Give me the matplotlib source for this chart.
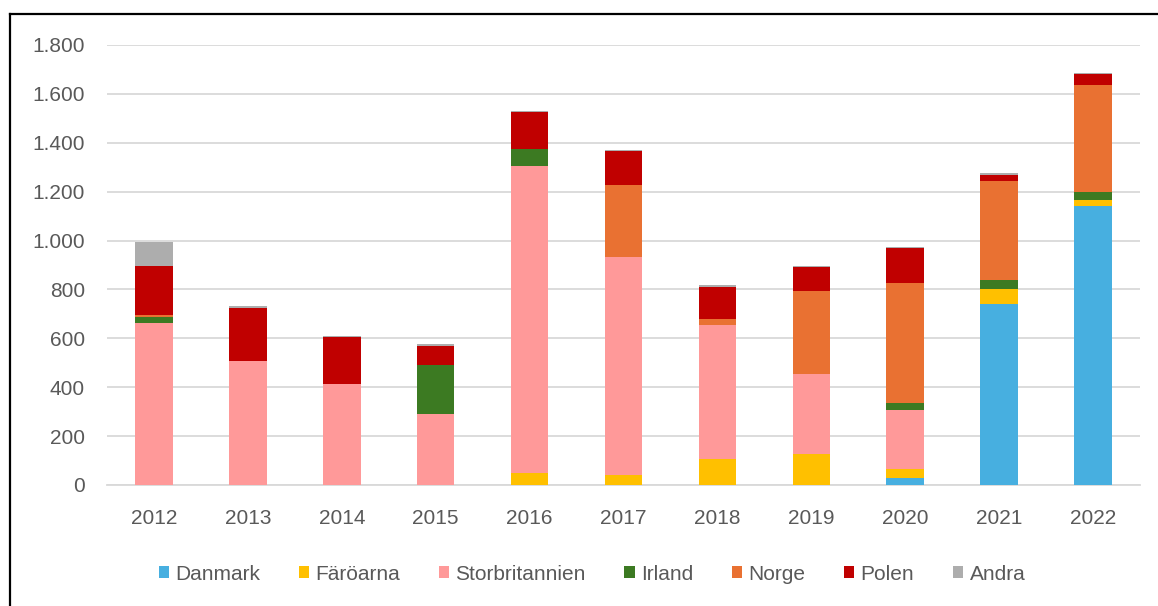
import matplotlib
matplotlib.use("Agg")
import matplotlib.pyplot as plt
import matplotlib.ticker as ticker
from matplotlib.lines import Line2D
import numpy as np

plt.rcParams.update({
    "font.family": ["Liberation Sans", "DejaVu Sans"],
    "font.size": 15,
    "text.color": "#595959",
    "xtick.color": "#595959",
    "ytick.color": "#595959",
})

years = ["2012", "2013", "2014", "2015", "2016", "2017",
         "2018", "2019", "2020", "2021", "2022"]

danmark        = [0,   0,   0,   0,    0,   0,   0,   0,   30,  742, 1142]
faroarna       = [0,   0,   0,   0,   48,  40, 108, 126,   34,   60,   24]
storbritannien = [664, 508, 412, 290, 1257, 894, 546, 330, 243,    0,    0]
irland         = [25,  0,   0,   200,  69,   0,   0,   0,   27,   35,   34]
norge          = [8,   0,   0,   0,    0, 294,  26, 338,  494,  407,  436]
polen          = [200, 218, 192, 78, 150, 138, 130,  96,  140,   26,   44]
andra          = [97,  7,   6,   7,    6,   6,   7,   7,    5,    7,    4]

series = {
    "Danmark": danmark,
    "Färöarna": faroarna,
    "Storbritannien": storbritannien,
    "Irland": irland,
    "Norge": norge,
    "Polen": polen,
    "Andra": andra,
}
COLORS = {
    "Danmark": "#47AFE0",
    "Färöarna": "#FFC000",
    "Storbritannien": "#FF9999",
    "Irland": "#3C7A22",
    "Norge": "#E97132",
    "Polen": "#C00000",
    "Andra": "#ADADAD",
}

fig = plt.figure(figsize=(11.58, 6.06), dpi=100)
ax = fig.add_axes([107 / 1158, 1 - 485 / 606, (1140 - 107) / 1158, (485 - 45) / 606])

x = np.arange(len(years))
bottom = np.zeros(len(years))
for name, vals in series.items():
    vals = np.array(vals, dtype=float)
    ax.bar(x, vals, width=0.4, bottom=bottom, color=COLORS[name], label=name,
           zorder=3)
    bottom += vals

ax.set_xlim(-0.5, len(years) - 0.5)
ax.set_ylim(0, 1800)
ax.set_yticks(range(0, 1801, 200))
ax.yaxis.set_major_formatter(
    ticker.FuncFormatter(lambda v, pos: f"{int(v):,}".replace(",", "."))
)
ax.set_xticks(x)
ax.set_xticklabels(years)
ax.tick_params(axis="both", length=0)
ax.tick_params(axis="x", pad=17)
ax.tick_params(axis="y", pad=16)

ax.grid(True, axis="y", color="#D9D9D9", linewidth=1.3, zorder=0)
for side in ["top", "right", "left"]:
    ax.spines[side].set_visible(False)
ax.spines["bottom"].set_color("#D9D9D9")
ax.spines["bottom"].set_linewidth(1.3)

fig.legend(loc="center", bbox_to_anchor=(592 / 1158, 1 - 574 / 606), ncol=7,
           frameon=False, handlelength=0.5, handleheight=0.5,
           handletextpad=0.3, columnspacing=1.85, fontsize=15)

# outer chart frame (top and left edges)
fig.add_artist(Line2D([10 / 1158, 1], [1 - 14 / 606, 1 - 14 / 606],
                      color="black", linewidth=1.6, transform=fig.transFigure))
fig.add_artist(Line2D([10 / 1158, 10 / 1158], [0, 1 - 14 / 606],
                      color="black", linewidth=1.6, transform=fig.transFigure))

fig.savefig("out.png", dpi=100)
